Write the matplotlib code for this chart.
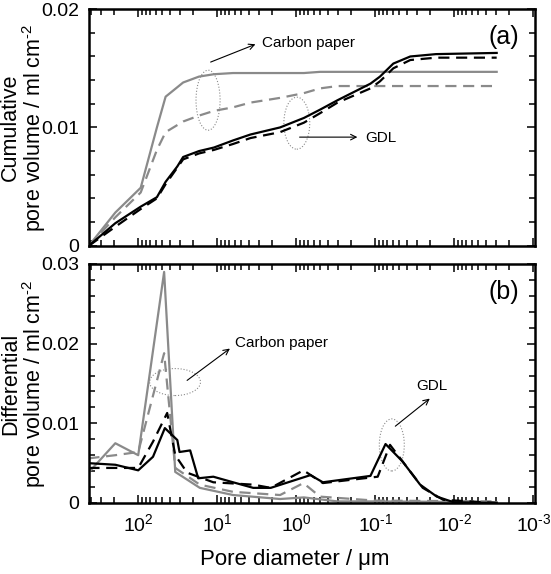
import numpy as np
import matplotlib
matplotlib.use('Agg')
import matplotlib.pyplot as plt
from matplotlib.patches import Ellipse
from matplotlib.ticker import (LogLocator, MultipleLocator, FixedLocator,
                               NullFormatter, FuncFormatter)

plt.rcParams['font.family'] = ['Liberation Sans', 'DejaVu Sans']
plt.rcParams['mathtext.fontset'] = 'custom'
plt.rcParams['mathtext.rm'] = 'Liberation Sans'
plt.rcParams['mathtext.it'] = 'Liberation Sans:italic'

GREY = '#8a8a8a'

# (a) cumulative pore volume, pore diameter in um
d_cum = [420, 195, 93, 58, 45, 32, 27, 17, 11, 6.3, 3.8, 1.6, 0.8, 0.5, 0.3,
         0.115, 0.087, 0.059, 0.036, 0.017, 0.0029]
cum_cp_solid = [0, 0.0028, 0.0049, 0.0100, 0.0126, 0.0134, 0.0138, 0.0143, 0.0145,
                0.0146, 0.0146, 0.0146, 0.0146, 0.0147, 0.0147, 0.0147, 0.0147,
                0.0147, 0.0147, 0.0147, 0.0147]
cum_cp_dash = [0, 0.0024, 0.0045, 0.0081, 0.0096, 0.0102, 0.0105, 0.0110, 0.0114,
               0.0117, 0.0121, 0.0125, 0.0129, 0.0133, 0.0135, 0.0135, 0.0135,
               0.0135, 0.0135, 0.0135, 0.0135]
cum_gdl_solid = [0, 0.0019, 0.0033, 0.0041, 0.0054, 0.0067, 0.0075, 0.0080, 0.0083,
                 0.0089, 0.0094, 0.0100, 0.0108, 0.0115, 0.0123, 0.0137, 0.0143,
                 0.0154, 0.0160, 0.0162, 0.0163]
cum_gdl_dash = [0, 0.0016, 0.0031, 0.0040, 0.0052, 0.0066, 0.0073, 0.0078, 0.0081,
                0.0086, 0.0091, 0.0096, 0.0104, 0.0112, 0.0121, 0.0133, 0.0139,
                0.0150, 0.0157, 0.0159, 0.0159]

# (b) differential pore volume
d_dif_cp_solid = [427, 195, 100, 47, 34, 16.6, 6.3, 1.6, 0.8, 0.3, 0.1, 0.0029]
dif_cp_solid = [0.0038, 0.0075, 0.0060, 0.0290, 0.0039, 0.0019, 0.0010, 0.0005,
                0.0007, 0.0002, 0.0002, 0.0001]
d_dif_cp_dash = [427, 195, 100, 47, 34, 16.6, 6.3, 1.6, 0.81, 0.5, 0.1, 0.0029]
dif_cp_dash = [0.0056, 0.0060, 0.0064, 0.0188, 0.0044, 0.0023, 0.0014, 0.0010,
               0.0025, 0.0008, 0.0003, 0.0002]
d_dif_gdl_solid = [427, 195, 100, 65, 46, 32, 30, 22, 17.4, 11.2, 6.3, 3.5, 2.1,
                   0.66, 0.46, 0.115, 0.074, 0.045, 0.027, 0.0166, 0.0102, 0.0029]
dif_gdl_solid = [0.0050, 0.0048, 0.0041, 0.0058, 0.0094, 0.0079, 0.0064, 0.0066,
                 0.0031, 0.0033, 0.0026, 0.0019, 0.0019, 0.0035, 0.0026, 0.0034,
                 0.0074, 0.0052, 0.0023, 0.0008, 0.0001, 0.0]
d_dif_gdl_dash = [427, 195, 100, 65, 43, 34, 24, 11.2, 3.5, 2.1, 0.81, 0.46, 0.093,
                  0.065, 0.039, 0.025, 0.0138, 0.0029]
dif_gdl_dash = [0.0044, 0.0044, 0.0044, 0.0077, 0.0113, 0.0060, 0.0038, 0.0026,
                0.0023, 0.0019, 0.0041, 0.0025, 0.0033, 0.0073, 0.0044, 0.0019,
                0.0004, 0.0]


def decade_label(x, pos):
    e = int(round(np.log10(x)))
    return r'$10^{\text{%d}}$' % e


def style_axis(ax, ymax, yticks, ylabels):
    ax.set_xscale('log')
    ax.set_xlim(420, 0.00095)
    ax.set_ylim(0, ymax)
    ax.xaxis.set_major_locator(LogLocator(base=10, numticks=20))
    ax.xaxis.set_major_formatter(FuncFormatter(decade_label))
    ax.xaxis.set_minor_locator(LogLocator(base=10, subs=np.arange(2, 10), numticks=100))
    ax.xaxis.set_minor_formatter(NullFormatter())
    ax.yaxis.set_major_locator(FixedLocator(yticks))
    ax.set_yticklabels(ylabels)
    ax.yaxis.set_minor_locator(MultipleLocator(0.002))
    ax.tick_params(which='both', direction='in', top=True, right=True,
                   labelsize=14, width=1.1)
    ax.tick_params(which='major', length=6, pad=7)
    ax.tick_params(which='minor', length=4.5)
    for sp in ax.spines.values():
        sp.set_linewidth(1.8)


fig = plt.figure(figsize=(5.51, 5.74), dpi=100)
ax1 = fig.add_axes([0.1615, 0.572, 0.8094, 0.412])
ax2 = fig.add_axes([0.1615, 0.1237, 0.8094, 0.4164])

# panel (a)
ax1.plot(d_cum, cum_cp_solid, color=GREY, lw=1.6)
ax1.plot(d_cum, cum_cp_dash, color=GREY, lw=1.6, ls=(0, (5, 3)))
ax1.plot(d_cum, cum_gdl_solid, color='black', lw=1.6)
ax1.plot(d_cum, cum_gdl_dash, color='black', lw=1.6, ls=(0, (5, 3)))
style_axis(ax1, 0.02, [0, 0.01, 0.02], ['0', '0.01', '0.02'])
ax1.tick_params(labelbottom=False)
ax1.set_ylabel('Cumulative\npore volume / ml cm$^{\\text{-2}}$', fontsize=15.5,
               linespacing=0.95)
ax1.yaxis.set_label_coords(-0.092, 0.5)

ax1.add_patch(Ellipse((0.267, 0.615), 0.054, 0.254, transform=ax1.transAxes,
                      fill=False, ec=GREY, lw=0.8, ls=':'))
ax1.annotate('', xy=(0.379, 0.856), xytext=(0.267, 0.772), xycoords='axes fraction',
             arrowprops=dict(arrowstyle='->', color='black', lw=0.8))
ax1.text(0.388, 0.856, 'Carbon paper', transform=ax1.transAxes, fontsize=11, va='center')
ax1.add_patch(Ellipse((0.466, 0.518), 0.058, 0.22, transform=ax1.transAxes,
                      fill=False, ec=GREY, lw=0.8, ls=':'))
ax1.annotate('', xy=(0.608, 0.459), xytext=(0.466, 0.459), xycoords='axes fraction',
             arrowprops=dict(arrowstyle='->', color='black', lw=0.8))
ax1.text(0.619, 0.456, 'GDL', transform=ax1.transAxes, fontsize=11, va='center')
ax1.text(0.964, 0.882, '(a)', transform=ax1.transAxes, fontsize=18, ha='right', va='center')

# panel (b)
ax2.plot(d_dif_cp_solid, dif_cp_solid, color=GREY, lw=1.6)
ax2.plot(d_dif_cp_dash, dif_cp_dash, color=GREY, lw=1.6, ls=(0, (5, 3)))
ax2.plot(d_dif_gdl_solid, dif_gdl_solid, color='black', lw=1.6)
ax2.plot(d_dif_gdl_dash, dif_gdl_dash, color='black', lw=1.6, ls=(0, (5, 3)))
style_axis(ax2, 0.03, [0, 0.01, 0.02, 0.03], ['0', '0.01', '0.02', '0.03'])
ax2.set_ylabel('Differential\npore volume / ml cm$^{\\text{-2}}$', fontsize=15.5,
               linespacing=0.95)
ax2.yaxis.set_label_coords(-0.092, 0.5)

ax2.add_patch(Ellipse((0.193, 0.506), 0.114, 0.113, transform=ax2.transAxes,
                      fill=False, ec=GREY, lw=0.8, ls=':'))
ax2.annotate('', xy=(0.321, 0.653), xytext=(0.215, 0.506), xycoords='axes fraction',
             arrowprops=dict(arrowstyle='->', color='black', lw=0.8))
ax2.text(0.327, 0.669, 'Carbon paper', transform=ax2.transAxes, fontsize=11, va='center')
ax2.add_patch(Ellipse((0.679, 0.243), 0.056, 0.218, transform=ax2.transAxes,
                      fill=False, ec=GREY, lw=0.8, ls=':'))
ax2.annotate('', xy=(0.769, 0.444), xytext=(0.682, 0.314), xycoords='axes fraction',
             arrowprops=dict(arrowstyle='->', color='black', lw=0.8))
ax2.text(0.769, 0.490, 'GDL', transform=ax2.transAxes, fontsize=11, ha='center', va='center')
ax2.text(0.964, 0.883, '(b)', transform=ax2.transAxes, fontsize=18, ha='right', va='center')

fig.text(295 / 551, 1 - 560 / 574, 'Pore diameter / \u03bcm', fontsize=16,
         ha='center', va='center')

fig.savefig('out.png', dpi=100)
